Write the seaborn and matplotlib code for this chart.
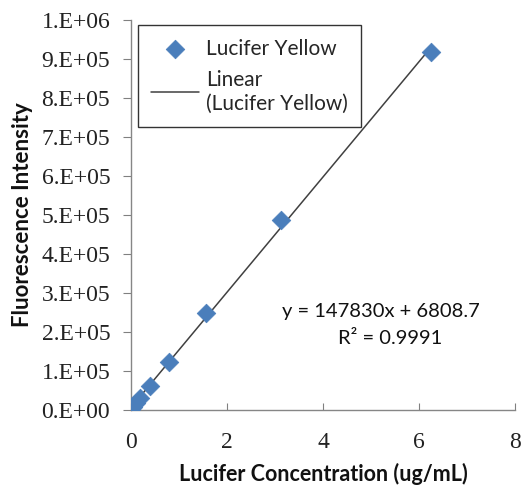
import numpy as np
import pandas as pd
import matplotlib
matplotlib.use("Agg")
import matplotlib.pyplot as plt
import seaborn as sns
from matplotlib.ticker import FuncFormatter

# Serial dilution standards
concentration = [6.25, 3.125, 1.5625, 0.78125, 0.390625, 0.1953, 0.0977, 0.0488, 0.0]
fluorescence = [9.18e5, 4.87e5, 2.49e5, 1.23e5, 6.2e4, 3.2e4, 1.8e4, 9.0e3, 2.0e3]

slope = 147830
intercept = 6808.7
r_squared = 0.9991

y_ticks = [0, 1e5, 2e5, 3e5, 4e5, 5e5, 6e5, 7e5, 8e5, 9e5, 1e6]
x_ticks = [0, 2, 4, 6, 8]

df = pd.DataFrame({"conc": concentration, "fluor": fluorescence})
fit_x = [min(concentration), max(concentration)]
fit = pd.DataFrame({"conc": fit_x, "fluor": [slope * v + intercept for v in fit_x]})

sns.set_style("white")
fig = plt.figure(figsize=(5.22, 4.9), dpi=100)
ax = fig.add_axes([0.251, 0.163, 0.736, 0.796])

blue = "#4A7EBB"
sans = "Lato"
serif = "Liberation Serif"
sns.lineplot(data=fit, x="conc", y="fluor", ax=ax, color="#404040", linewidth=1.1,
             label="Linear\n(Lucifer Yellow)", zorder=2)
sns.scatterplot(data=df, x="conc", y="fluor", ax=ax, marker="D", s=90, color=blue,
                edgecolor=blue, linewidth=0.5, label="Lucifer Yellow", zorder=3)

ax.set_xlim(0, 8)
ax.set_ylim(0, 1e6)
ax.set_xticks(x_ticks)
ax.set_yticks(y_ticks)

def sci(v, pos):
    if v == 0:
        return "0.E+00"
    exp = int(np.floor(np.log10(v) + 1e-9))
    mant = v / 10 ** exp
    return f"{mant:.0f}.E+{exp:02d}"

ax.yaxis.set_major_formatter(FuncFormatter(sci))
ax.xaxis.set_major_formatter(FuncFormatter(lambda v, p: f"{v:.0f}"))

ax.tick_params(axis="y", direction="out", length=6, width=0.8, color="#808080", pad=9,
               labelsize=17, labelfontfamily=serif, labelcolor="#222222")
ax.tick_params(axis="x", direction="in", length=5, width=0.8, color="#808080", pad=16,
               labelsize=17, labelfontfamily=serif, labelcolor="#222222")
ax.tick_params(left=True, bottom=True)

for side in ["top", "right"]:
    ax.spines[side].set_visible(False)
for side in ["left", "bottom"]:
    ax.spines[side].set_color("#868686")
    ax.spines[side].set_linewidth(1.0)

ax.set_xlabel("Lucifer Concentration (ug/mL)", fontfamily=sans, fontweight="bold",
              fontsize=15.5, labelpad=7, color="#111111")
ax.set_ylabel("Fluorescence Intensity", fontfamily=sans, fontweight="bold",
              fontsize=16, labelpad=6, color="#111111")

handles, labels = ax.get_legend_handles_labels()
order = [labels.index("Lucifer Yellow"), labels.index("Linear\n(Lucifer Yellow)")]
leg = ax.legend([handles[i] for i in order], [labels[i] for i in order],
                loc="upper left", bbox_to_anchor=(0.018, 0.987), borderaxespad=0,
                frameon=True, fancybox=False, edgecolor="#333333", framealpha=1,
                prop={"family": sans, "size": 15}, handlelength=2.3,
                borderpad=0.65, labelspacing=0.55, handletextpad=0.3)
leg.get_frame().set_linewidth(1.0)

ax.text(5.2, 2.52e5, f"y = {slope}x + {intercept}", ha="center", va="center",
        fontfamily=sans, fontsize=14.5, color="#111111")
ax.text(5.4, 1.84e5, f"R² = {r_squared}", ha="center", va="center",
        fontfamily=sans, fontsize=14.5, color="#111111")

fig.savefig("out.png", dpi=100)
